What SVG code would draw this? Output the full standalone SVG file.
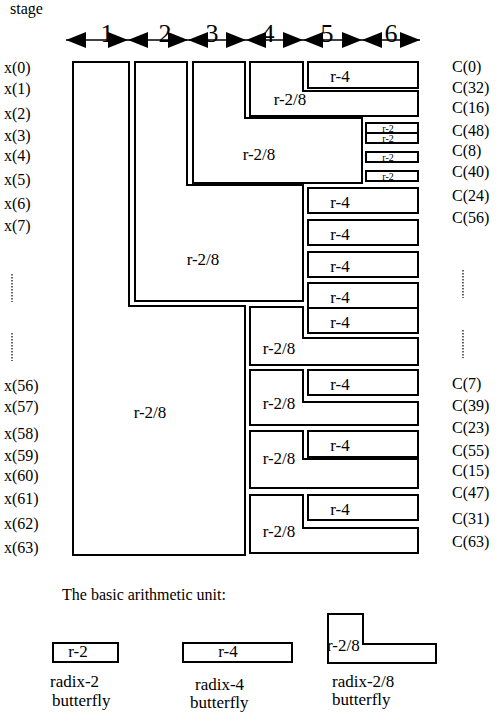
<svg xmlns="http://www.w3.org/2000/svg" width="496" height="716" viewBox="0 0 496 716">
<defs>
<marker id="ah" viewBox="0 0 20 16" refX="20" refY="8" markerWidth="20" markerHeight="16" markerUnits="userSpaceOnUse" orient="auto-start-reverse">
<path d="M0,0 L20,8 L0,16 Z" fill="#000"/>
</marker>
</defs>
<style>
.b{fill:#fff;stroke:#000;stroke-width:2}
.t{font-family:"Liberation Serif",serif;font-size:17px;fill:#000}
.m{text-anchor:middle}
.s{font-family:"Liberation Serif",serif;font-size:10px;fill:#000;text-anchor:middle}
.io{font-family:"Liberation Serif",serif;font-size:16px;fill:#000}
.n{font-family:"Liberation Serif",serif;font-size:26px;fill:#000;text-anchor:middle}
.a{stroke:#000;stroke-width:1.6;marker-start:url(#ah);marker-end:url(#ah)}
.d{stroke:#000;stroke-width:1.2;stroke-dasharray:1.5 1.5}
</style>
<rect width="496" height="716" fill="#fff"/>
<text class="io" x="10" y="14">stage</text>
<g id="connectors">
<line class="a" x1="66" y1="40" x2="128" y2="40"/>
<line class="a" x1="128" y1="40" x2="188" y2="40"/>
<line class="a" x1="188" y1="40" x2="246" y2="40"/>
<line class="a" x1="246" y1="40" x2="303" y2="40"/>
<line class="a" x1="303" y1="40" x2="362" y2="40"/>
<line class="a" x1="362" y1="40" x2="420" y2="40"/>
</g>
<g id="stage-numbers">
<text class="n" x="107" y="42">1</text>
<text class="n" x="165" y="42">2</text>
<text class="n" x="212" y="42">3</text>
<text class="n" x="268" y="42">4</text>
<text class="n" x="327" y="42">5</text>
<text class="n" x="391" y="42">6</text>
</g>
<g id="stage1">
<polygon class="b" points="73,62 129,62 129,306 245,306 245,555 73,555"/>
<text class="t m" x="150" y="418">r-2/8</text>
</g>
<g id="stage2">
<polygon class="b" points="135,62 187,62 187,185 303,185 303,301 135,301"/>
<text class="t m" x="203" y="265">r-2/8</text>
</g>
<g id="stage3">
<polygon class="b" points="193,62 245,62 245,118 362,118 362,183 193,183"/>
<text class="t m" x="259" y="160">r-2/8</text>
</g>
<g id="s4-top">
<polygon class="b" points="250,62 303,62 303,91 418,91 418,116 250,116"/>
<text class="t m" x="290" y="105">r-2/8</text>
</g>
<g id="s5-top">
<rect class="b" x="308" y="62" width="110" height="26"/>
<text class="t m" x="340" y="82">r-4</text>
</g>
<g id="r2-a"><rect class="b" x="366" y="123" width="52" height="10"/><text class="s" x="388" y="131.5">r-2</text></g>
<g id="r2-b"><rect class="b" x="366" y="133" width="52" height="10"/><text class="s" x="388" y="141.5">r-2</text></g>
<g id="r2-c"><rect class="b" x="366" y="152" width="52" height="10"/><text class="s" x="388" y="160.5">r-2</text></g>
<g id="r2-d"><rect class="b" x="366" y="171" width="52" height="10"/><text class="s" x="388" y="179.5">r-2</text></g>
<g id="r4-1"><rect class="b" x="308" y="188" width="110" height="25"/><text class="t m" x="340" y="208">r-4</text></g>
<g id="r4-2"><rect class="b" x="308" y="220" width="110" height="25"/><text class="t m" x="340" y="240">r-4</text></g>
<g id="r4-3"><rect class="b" x="308" y="252" width="110" height="25"/><text class="t m" x="340" y="272">r-4</text></g>
<g id="r4-4"><rect class="b" x="308" y="283" width="110" height="25"/><text class="t m" x="340" y="303">r-4</text></g>
<g id="r4-5"><rect class="b" x="308" y="308" width="110" height="25"/><text class="t m" x="340" y="328">r-4</text></g>
<g id="s4-l1">
<polygon class="b" points="250,307 303,307 303,338 418,338 418,365 250,365"/>
<text class="t m" x="279" y="354">r-2/8</text>
</g>
<g id="s4-l2">
<polygon class="b" points="250,370 303,370 303,402 418,402 418,425 250,425"/>
<text class="t m" x="279" y="409">r-2/8</text>
</g>
<g id="r4-6"><rect class="b" x="308" y="370" width="110" height="25"/><text class="t m" x="340" y="390">r-4</text></g>
<g id="s4-l3">
<polygon class="b" points="250,431 303,431 303,459 418,459 418,488 250,488"/>
<text class="t m" x="279" y="464">r-2/8</text>
</g>
<g id="r4-7"><rect class="b" x="308" y="431" width="110" height="26"/><text class="t m" x="340" y="451">r-4</text></g>
<g id="s4-l4">
<polygon class="b" points="250,495 303,495 303,528 418,528 418,553 250,553"/>
<text class="t m" x="279" y="537">r-2/8</text>
</g>
<g id="r4-8"><rect class="b" x="308" y="495" width="110" height="25"/><text class="t m" x="340" y="515">r-4</text></g>
<g id="inputs">
<text class="io" x="4" y="73">x(0)</text>
<text class="io" x="4" y="94">x(1)</text>
<text class="io" x="4" y="119">x(2)</text>
<text class="io" x="4" y="141">x(3)</text>
<text class="io" x="4" y="161">x(4)</text>
<text class="io" x="4" y="185">x(5)</text>
<text class="io" x="4" y="209">x(6)</text>
<text class="io" x="4" y="231">x(7)</text>
<line class="d" x1="12" y1="274" x2="12" y2="302"/>
<line class="d" x1="12" y1="333" x2="12" y2="361"/>
<text class="io" x="4" y="391">x(56)</text>
<text class="io" x="4" y="412">x(57)</text>
<text class="io" x="4" y="439">x(58)</text>
<text class="io" x="4" y="461">x(59)</text>
<text class="io" x="4" y="481">x(60)</text>
<text class="io" x="4" y="504">x(61)</text>
<text class="io" x="4" y="529">x(62)</text>
<text class="io" x="4" y="553">x(63)</text>
</g>
<g id="outputs">
<text class="io" x="452" y="72">C(0)</text>
<text class="io" x="452" y="93">C(32)</text>
<text class="io" x="452" y="113">C(16)</text>
<text class="io" x="452" y="136">C(48)</text>
<text class="io" x="452" y="156">C(8)</text>
<text class="io" x="452" y="177">C(40)</text>
<text class="io" x="452" y="201">C(24)</text>
<text class="io" x="452" y="223">C(56)</text>
<line class="d" x1="463" y1="270" x2="463" y2="298"/>
<line class="d" x1="463" y1="330" x2="463" y2="358"/>
<text class="io" x="452" y="389">C(7)</text>
<text class="io" x="452" y="411">C(39)</text>
<text class="io" x="452" y="433">C(23)</text>
<text class="io" x="452" y="456">C(55)</text>
<text class="io" x="452" y="476">C(15)</text>
<text class="io" x="452" y="498">C(47)</text>
<text class="io" x="452" y="524">C(31)</text>
<text class="io" x="452" y="547">C(63)</text>
</g>
<text class="io" x="62" y="600">The basic arithmetic unit:</text>
<g id="legend-r2">
<rect class="b" x="53" y="643" width="65" height="19"/>
<text class="t m" x="78" y="657">r-2</text>
<text class="t" x="50" y="687">radix-2</text>
<text class="t" x="52" y="706">butterfly</text>
</g>
<g id="legend-r4">
<rect class="b" x="183" y="643" width="109" height="19"/>
<text class="t m" x="228" y="657">r-4</text>
<text class="t" x="195" y="690">radix-4</text>
<text class="t" x="190" y="708">butterfly</text>
</g>
<g id="legend-r28">
<polygon class="b" points="328,614 363,614 363,644 436,644 436,663 328,663"/>
<text class="t" x="327" y="651">r-2/8</text>
<text class="t" x="332" y="687">radix-2/8</text>
<text class="t" x="332" y="705">butterfly</text>
</g>
</svg>
